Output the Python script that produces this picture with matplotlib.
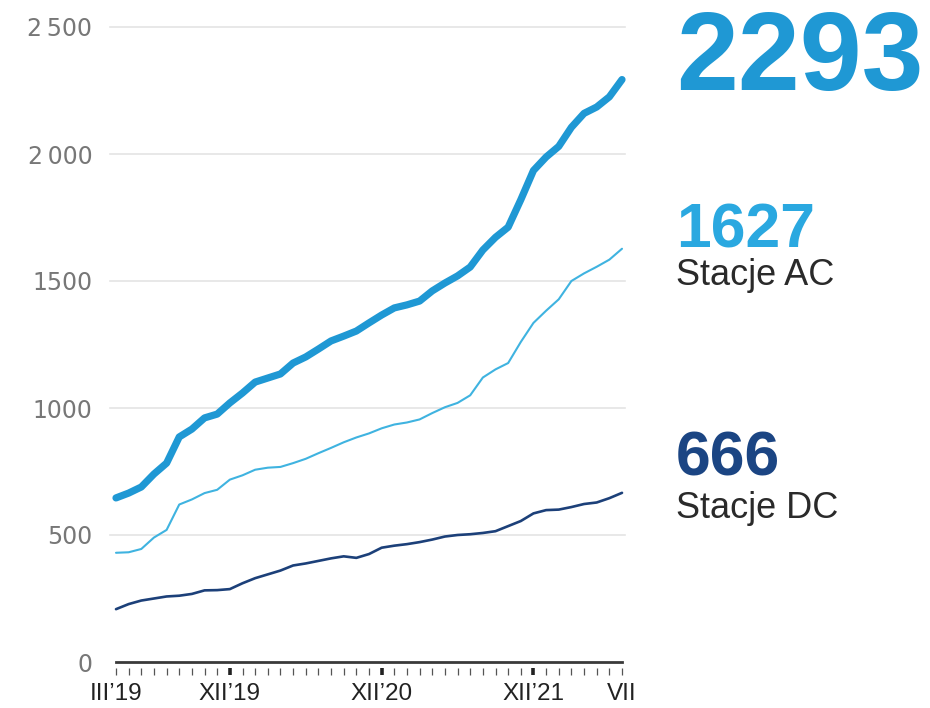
import matplotlib
matplotlib.use("Agg")
import matplotlib.pyplot as plt
import numpy as np

# Monthly counts of charging stations, III'19 .. VII'22
total = [646, 665, 689, 740, 783, 886, 917, 961, 976, 1020,
         1059, 1102, 1118, 1134, 1177, 1201, 1232, 1264, 1283, 1303,
         1335, 1366, 1394, 1406, 1421, 1461, 1492, 1520, 1555, 1622,
         1672, 1712, 1820, 1935, 1988, 2030, 2105, 2160, 2185, 2225,
         2293]
ac = [430, 432, 445, 490, 520, 620, 640, 665, 678, 718,
      735, 757, 765, 768, 783, 800, 822, 843, 865, 884,
      900, 920, 935, 943, 955, 980, 1003, 1020, 1050, 1120,
      1152, 1177, 1260, 1335, 1383, 1428, 1500, 1530, 1556, 1584,
      1627]
dc = [208, 228, 242, 250, 258, 261, 268, 282, 283, 287,
      310, 330, 345, 360, 380, 388, 398, 408, 416, 410,
      425, 450, 458, 464, 472, 482, 494, 500, 503, 508,
      515, 535, 555, 585, 598, 600, 610, 622, 628, 645,
      666]

month_labels = ["III\u201919", "XII\u201919", "XII\u201920", "XII\u201921", "VII"]
month_label_idx = [0, 9, 21, 33, 40]
december_idx = [9, 21, 33]

y_ticks = [0, 500, 1000, 1500, 2000, 2500]
y_labels = ["0", "500", "1000", "1500", "2\u2009000", "2\u2009500"]

C_TOTAL = "#1f98d4"
C_AC = "#3fb3e0"
C_DC = "#1c4079"

plt.rcParams["font.family"] = ["Liberation Sans", "DejaVu Sans"]

fig = plt.figure(figsize=(9.3, 7.08), dpi=100)
ax = fig.add_axes([116 / 930, 46 / 708, 506 / 930, 635 / 708])

months = np.arange(len(total))
ax.set_xlim(0, len(total) - 1)
ax.set_ylim(0, 2500)

for v in y_ticks[1:]:
    ax.axhline(v, xmin=-0.012, xmax=1.005, color="#e4e4e4", lw=1.2,
               zorder=0, clip_on=False)

ax.plot(months, dc, color=C_DC, lw=1.9, solid_capstyle="round",
        solid_joinstyle="round", clip_on=False, zorder=3)
ax.plot(months, ac, color=C_AC, lw=1.5, solid_capstyle="round",
        solid_joinstyle="round", clip_on=False, zorder=3)
ax.plot(months, total, color=C_TOTAL, lw=5.2, solid_capstyle="round",
        solid_joinstyle="round", clip_on=False, zorder=4)

for side in ("top", "right", "left"):
    ax.spines[side].set_visible(False)
ax.spines["bottom"].set_color("#3a3a3a")
ax.spines["bottom"].set_linewidth(2.0)

# month tick marks sit a little below the baseline
minor = [m for m in months if m not in december_idx]
ax.vlines(minor, -22, -50, color="#555555", lw=0.9, clip_on=False)
ax.vlines(december_idx, -22, -50, color="#222222", lw=2.6, clip_on=False)

ax.set_yticks(y_ticks, y_labels)
ax.tick_params(axis="y", length=0, pad=17, labelcolor="#777777")
for lab in ax.get_yticklabels():
    lab.set_family(["DejaVu Sans", "Liberation Sans"])
    lab.set_fontsize(17)

ax.set_xticks(month_label_idx, month_labels)
ax.tick_params(axis="x", length=0, pad=15, labelcolor="#222222")
for lab in ax.get_xticklabels():
    lab.set_family(["Liberation Sans Narrow", "Liberation Sans", "DejaVu Sans"])
    lab.set_fontsize(17.5)

x0 = 676 / 930
fig.text(x0, (708 - 90) / 708, f"{total[-1]}", color=C_TOTAL, fontsize=80,
         fontweight="bold", va="baseline", ha="left")
fig.text(x0, (708 - 248) / 708, f"{ac[-1]}", color="#2aa8e0", fontsize=45,
         fontweight="bold", va="baseline", ha="left")
fig.text(x0, (708 - 285) / 708, "Stacje AC", color="#2a2a2a", fontsize=26,
         va="baseline", ha="left")
fig.text(x0, (708 - 475) / 708, f"{dc[-1]}", color="#1b4583", fontsize=45,
         fontweight="bold", va="baseline", ha="left")
fig.text(x0, (708 - 518) / 708, "Stacje DC", color="#2a2a2a", fontsize=26,
         va="baseline", ha="left")

fig.savefig("out.png", dpi=100, facecolor="white")
